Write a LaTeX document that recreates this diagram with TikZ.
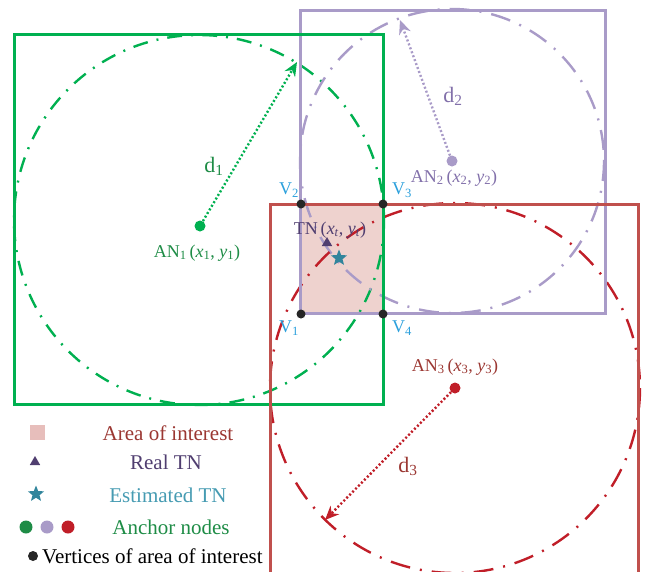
\documentclass[tikz,border=0pt]{standalone}
\usepackage{fontspec}
\setmainfont{Liberation Serif}
\usetikzlibrary{arrows.meta,shapes.geometric,positioning}

\definecolor{angreen}{RGB}{0,176,80}
\definecolor{txgreen}{RGB}{30,140,70}
\definecolor{anpurple}{RGB}{169,155,200}
\definecolor{txpurple}{RGB}{130,112,170}
\definecolor{sqred}{RGB}{192,80,77}
\definecolor{anred}{RGB}{192,30,40}
\definecolor{txred}{RGB}{155,55,50}
\definecolor{aoifill}{RGB}{238,210,206}
\definecolor{vblue}{RGB}{44,160,220}
\definecolor{realtn}{RGB}{80,62,112}
\definecolor{esttn}{RGB}{49,133,156}
\definecolor{txest}{RGB}{70,155,178}

\newcommand{\anlab}[1]{AN\textsubscript{#1}\,(\textit{x}\textsubscript{#1}, \textit{y}\textsubscript{#1})}

\begin{document}
\begin{tikzpicture}[
  x=1pt, y=-1pt,
  >={Stealth[length=14pt,width=12pt]},
  anchr/.style={circle, fill=#1, inner sep=0pt, minimum size=11pt},
  vert/.style={circle, fill=black!85, inner sep=0pt, minimum size=9pt},
  vlbl/.style={text=vblue, font=\fontsize{18}{18}\selectfont, inner sep=1pt},
  anlbl/.style={font=\fontsize{18}{18}\selectfont, inner sep=1pt},
  dlbl/.style={font=\fontsize{22}{22}\selectfont, inner sep=1pt},
  rng/.style={->, draw=#1, line width=2.4pt, dash pattern=on 2pt off 2.2pt},
  sq/.style={draw=#1, line width=3pt},
  crcl/.style={draw=#1, line width=2.4pt},
  lgd/.style={font=\fontsize{21}{21}\selectfont, inner sep=1pt},
]
\useasboundingbox (0,0) rectangle (648,571);

\fill[aoifill] (301,204) rectangle (383,314);

\draw[crcl=angreen, dash pattern=on 15pt off 9pt on 2pt off 9pt] (199,220) circle[radius=185];
\draw[crcl=anpurple, dash pattern=on 20pt off 10pt on 2pt off 10pt] (452,161) circle[radius=152];
\draw[crcl=anred, dash pattern=on 20pt off 10pt on 2pt off 10pt] (455,388) circle[radius=185];

\draw[sq=anpurple] (300,10) rectangle (605,313);
\draw[sq=angreen] (14,34) rectangle (383,404);
\draw[sq=sqred] (270,575) -- (270,204) -- (638,204) -- (638,575);

\node[anchr=angreen] (an1) at (200,226) {};
\node[anchr=anpurple] (an2) at (452,161) {};
\node[anchr=anred] (an3) at (455,388) {};

\coordinate (r1) at (297,62);
\coordinate (r2) at (400,20);
\coordinate (r3) at (325,520);

\draw[rng=angreen] (an1) -- (r1);
\draw[rng=anpurple] (an2) -- (r2);
\draw[rng=anred] (an3) -- (r3);

\node[anlbl, text=txgreen] (an1lbl) at (197,253) {\anlab{1}};
\node[anlbl, text=txpurple] (an2lbl) at (454,178) {\anlab{2}};
\node[anlbl, text=txred] (an3lbl) at (455,367) {\anlab{3}};

\node[dlbl, text=txgreen] (d1) at (214,166) {d\textsubscript{1}};
\node[dlbl, text=txpurple] (d2) at (453,96) {d\textsubscript{2}};
\node[dlbl, text=txred] (d3) at (408,466) {d\textsubscript{3}};

\node[vert] (v1) at (301,314) {};
\node[vert] (v2) at (301,204) {};
\node[vert] (v3) at (383,204) {};
\node[vert] (v4) at (383,314) {};
\node[vlbl] (v1lbl) at (289,328) {V\textsubscript{1}};
\node[vlbl] (v2lbl) at (289,190) {V\textsubscript{2}};
\node[vlbl] (v3lbl) at (402,190) {V\textsubscript{3}};
\node[vlbl] (v4lbl) at (402,328) {V\textsubscript{4}};

\node[regular polygon, regular polygon sides=3, fill=realtn, inner sep=0pt, minimum size=12pt] (tn) at (327,243) {};
\node[star, star points=5, star point ratio=2.3, fill=esttn, inner sep=0pt, minimum size=17pt] (etn) at (339,258) {};
\node[anlbl, text=realtn] (tnlbl) at (330,230) {TN\,(\textit{x}\textsubscript{\textit{t}}, \textit{y}\textsubscript{\textit{t}})};

\node[fill=aoifill!85!sqred, minimum size=15pt, inner sep=0pt] (lgaoi) at (37,432) {};
\node[regular polygon, regular polygon sides=3, fill=realtn, inner sep=0pt, minimum size=12pt] (lgtn) at (35,462) {};
\node[star, star points=5, star point ratio=2.3, fill=esttn, inner sep=0pt, minimum size=17pt] (lgetn) at (36,494) {};
\node[anchr=txgreen, minimum size=13pt] (lgan1) at (26,527) {};
\node[anchr=anpurple, minimum size=13pt] (lgan2) at (47,527) {};
\node[anchr=anred, minimum size=13pt] (lgan3) at (68,527) {};
\node[vert, minimum size=10pt] (lgv) at (33,556) {};

\node[lgd, text=txred] (lgaoitx) at (168,433) {Area of interest};
\node[lgd, text=realtn] (lgtntx) at (166,462) {Real TN};
\node[lgd, text=txest] (lgetntx) at (168,495) {Estimated TN};
\node[lgd, text=txgreen] (lgantx) at (171,527) {Anchor nodes};
\node[lgd, anchor=west] (lgvtx) at (41,556) {Vertices of area of interest};
\end{tikzpicture}
\end{document}
